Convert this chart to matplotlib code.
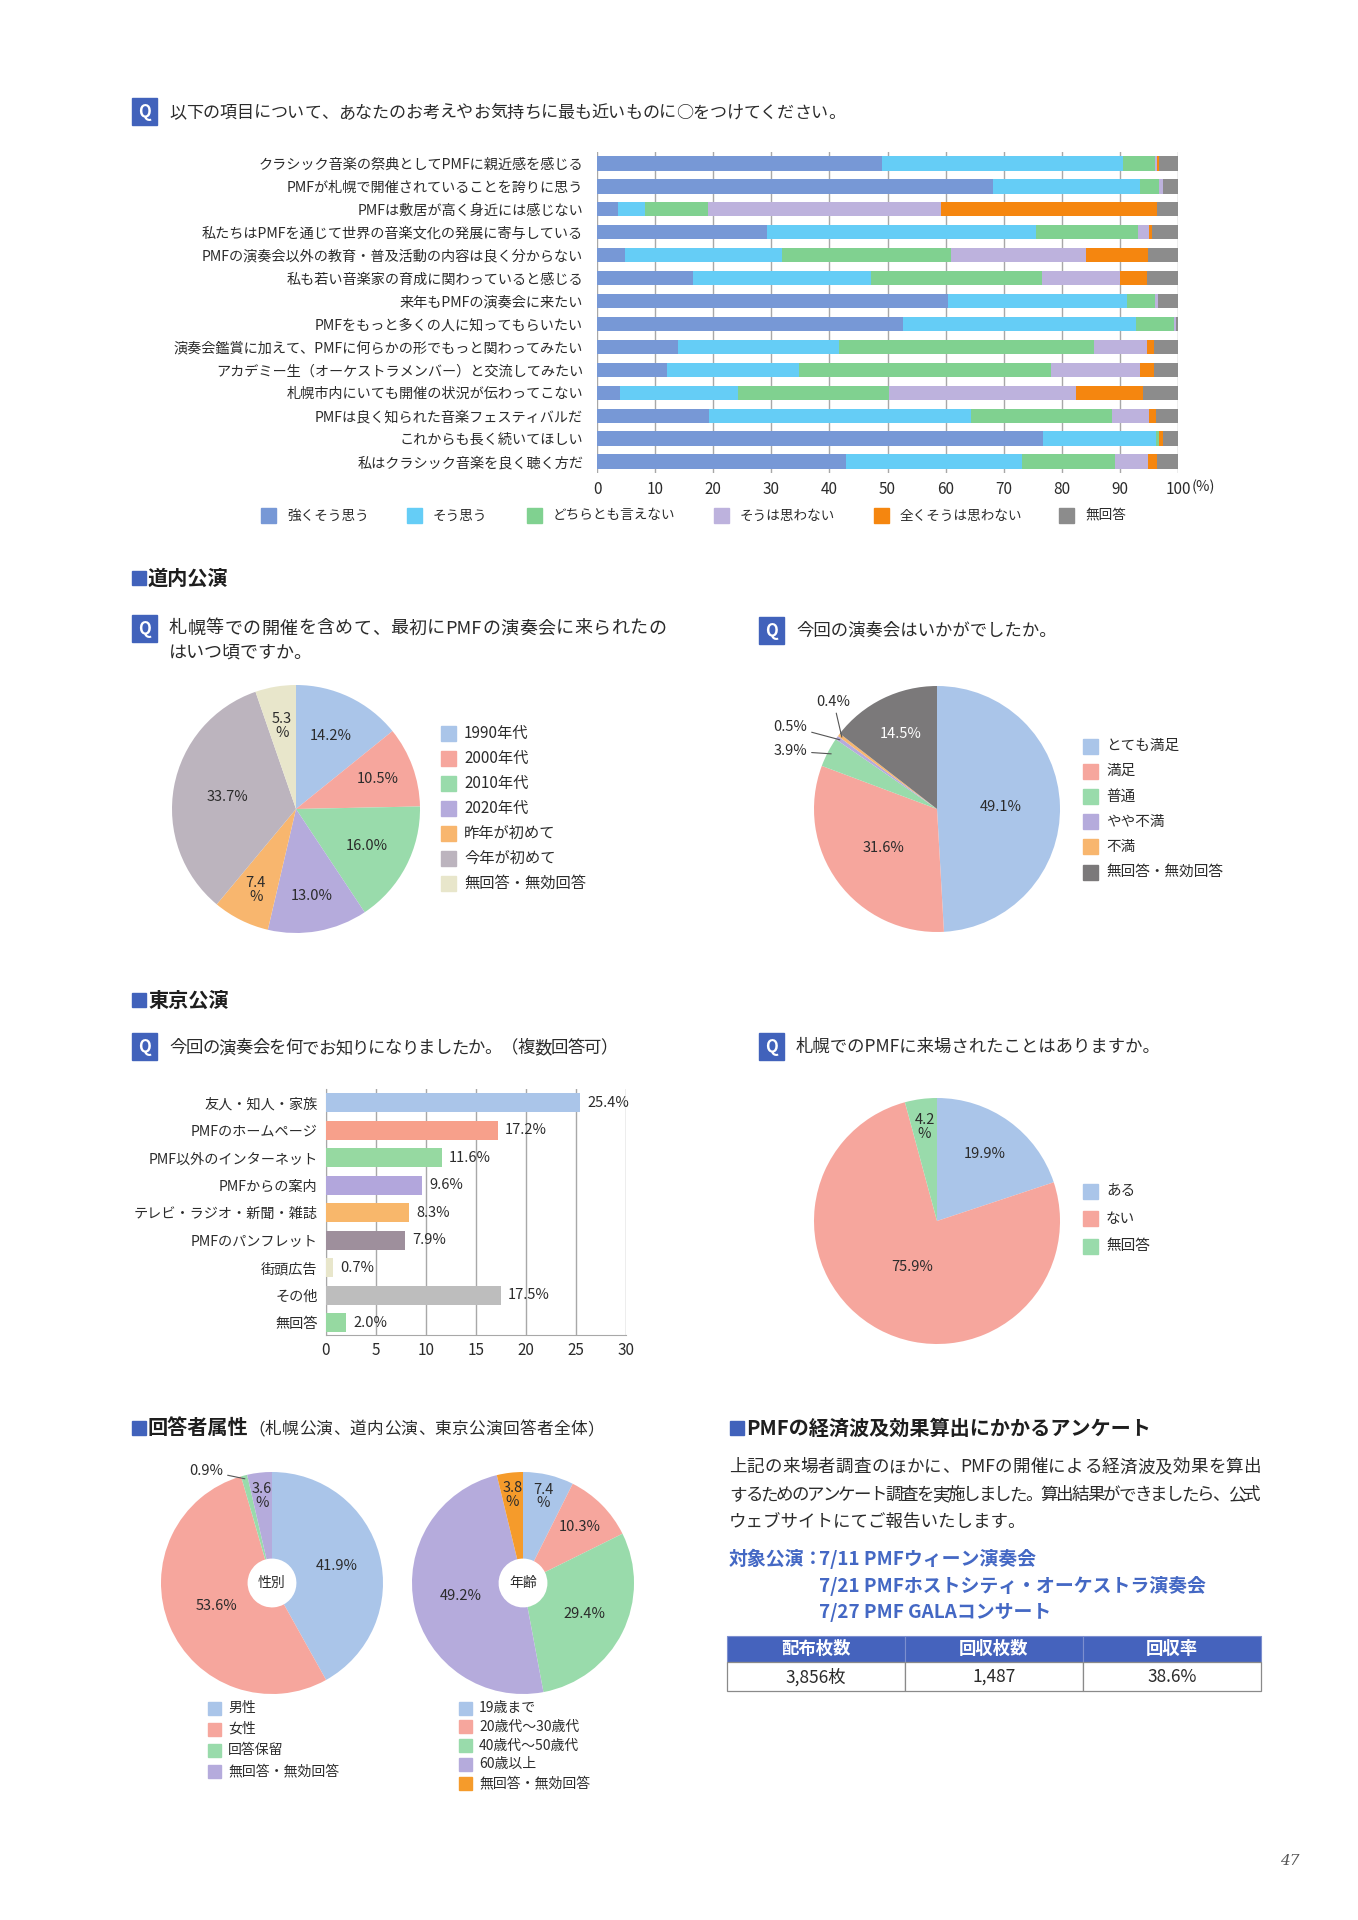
import re
import matplotlib
matplotlib.use("Agg")
import matplotlib.pyplot as plt
from matplotlib.patches import Rectangle
import numpy as np

plt.rcParams['font.family'] = ['Noto Sans CJK JP', 'DejaVu Sans']

W, H = 1358, 1920

# ---------------- data ----------------
statements = [
    'クラシック音楽の祭典としてPMFに親近感を感じる',
    'PMFが札幌で開催されていることを誇りに思う',
    'PMFは敷居が高く身近には感じない',
    '私たちはPMFを通じて世界の音楽文化の発展に寄与している',
    'PMFの演奏会以外の教育・普及活動の内容は良く分からない',
    '私も若い音楽家の育成に関わっていると感じる',
    '来年もPMFの演奏会に来たい',
    'PMFをもっと多くの人に知ってもらいたい',
    '演奏会鑑賞に加えて、PMFに何らかの形でもっと関わってみたい',
    'アカデミー生（オーケストラメンバー）と交流してみたい',
    '札幌市内にいても開催の状況が伝わってこない',
    'PMFは良く知られた音楽フェスティバルだ',
    'これからも長く続いてほしい',
    '私はクラシック音楽を良く聴く方だ',
]
likert_labels = ['強くそう思う', 'そう思う', 'どちらとも言えない', 'そうは思わない', '全くそうは思わない', '無回答']
strongly_agree = [49.0, 68.2, 3.6, 29.3, 4.8, 16.5, 60.4, 52.6, 14.0, 12.1, 4.0, 19.2, 76.8, 42.8]
agree = [41.6, 25.3, 4.6, 46.3, 27.1, 30.6, 30.9, 40.1, 27.6, 22.6, 20.2, 45.2, 19.4, 30.4]
neutral = [5.4, 3.3, 10.9, 17.5, 29.0, 29.5, 4.7, 6.6, 44.0, 43.5, 26.0, 24.2, 0.6, 16.0]
disagree = [0.4, 0.6, 40.1, 1.9, 23.3, 13.5, 0.6, 0.3, 9.0, 15.2, 32.3, 6.4, 0.0, 5.6]
strongly_disagree = [0.4, 0.0, 37.2, 0.6, 10.6, 4.6, 0.0, 0.0, 1.3, 2.4, 11.5, 1.2, 0.6, 1.6]
no_answer = [3.2, 2.6, 3.6, 4.4, 5.2, 5.3, 3.4, 0.4, 4.1, 4.2, 6.0, 3.8, 2.6, 3.6]

first_visit_labels = ['1990年代', '2000年代', '2010年代', '2020年代', '昨年が初めて', '今年が初めて', '無回答・無効回答']
first_visit = [14.2, 10.5, 16.0, 13.0, 7.4, 33.7, 5.3]

satisfaction_labels = ['とても満足', '満足', '普通', 'やや不満', '不満', '無回答・無効回答']
satisfaction = [49.1, 31.6, 3.9, 0.5, 0.4, 14.5]

source_labels = ['友人・知人・家族', 'PMFのホームページ', 'PMF以外のインターネット', 'PMFからの案内',
                 'テレビ・ラジオ・新聞・雑誌', 'PMFのパンフレット', '街頭広告', 'その他', '無回答']
source = [25.4, 17.2, 11.6, 9.6, 8.3, 7.9, 0.7, 17.5, 2.0]

visited_labels = ['ある', 'ない', '無回答']
visited = [19.9, 75.9, 4.2]

gender_labels = ['男性', '女性', '回答保留', '無回答・無効回答']
gender = [41.9, 53.6, 0.9, 3.6]

age_labels = ['19歳まで', '20歳代～30歳代', '40歳代～50歳代', '60歳以上', '無回答・無効回答']
age = [7.4, 10.3, 29.4, 49.2, 3.8]

table_header = ['配布枚数', '回収枚数', '回収率']
table_values = ['3,856枚', '1,487', '38.6%']

# ---------------- style ----------------
BLUE = '#4162bb'
TXT = '#2b2b2b'
GRID = '#a8a8a8'
likert_colors = ['#7798d6', '#65cdf6', '#80d190', '#bdb2dd', '#f5860f', '#8c8c8c']
LB, SAL, GRN, LAV, LOR = '#aac5e9', '#f6a69d', '#99dbab', '#b5abdc', '#f8b66e'

fig = plt.figure(figsize=(W / 100, H / 100), dpi=100)
renderer = fig.canvas.get_renderer()
bg = fig.add_axes([0, 0, 1, 1])
bg.set_xlim(0, W)
bg.set_ylim(H, 0)
bg.axis('off')


def box(x0, y0, x1, y1):
    return [x0 / W, 1 - y1 / H, (x1 - x0) / W, (y1 - y0) / H]


def justify(x0, x1, y, s, fs, color=TXT, weight='normal'):
    # lay the line out token by token so that it spans x0..x1 (proportional, like the print)
    toks = re.findall(r'[A-Za-z0-9/,.% ]+|.', s)
    widths = []
    for t in toks:
        tmp = bg.text(0, 0, t, fontsize=fs, fontweight=weight)
        widths.append(tmp.get_window_extent(renderer).width)
        tmp.remove()
    gap = (x1 - x0 - sum(widths)) / (len(toks) - 1)
    base = y + 0.36 * fs * 100 / 72
    x = x0
    for t, w in zip(toks, widths):
        bg.text(x, base, t, ha='left', va='baseline', fontsize=fs, color=color, fontweight=weight)
        x += w + gap


def q_mark(x, y, text=None, size=12.5):
    bg.add_patch(Rectangle((x, y), 25, 27, color=BLUE))
    bg.text(x + 12.5, y + 14, 'Q', color='white', ha='center', va='center', fontsize=12, fontweight='bold')
    if text:
        bg.text(x + 37, y + 13.5, text, ha='left', va='center', fontsize=size, color=TXT)


def section(x, y, text, size=14.5):
    bg.add_patch(Rectangle((x, y - 7), 14, 14, color=BLUE))
    bg.text(x + 16, y, text, ha='left', va='center', fontsize=size, fontweight='bold', color='#1e1e1e')


def legend_column(x, y0, step, labels, colors, size=15, fs=10.5, gap=8):
    for i, (lab, c) in enumerate(zip(labels, colors)):
        y = y0 + i * step
        bg.add_patch(Rectangle((x, y - size / 2), size, size, color=c))
        bg.text(x + size + gap, y, lab, ha='left', va='center', fontsize=fs, color=TXT)


def pie_chart(cx, cy, r, values, colors, dists, ext=None, hole=0.0, center_text=None, white=()):
    ax = fig.add_axes(box(cx - r, cy - r, cx + r, cy + r))
    wp = dict(linewidth=0)
    if hole:
        wp['width'] = 1 - hole
    wedges, _ = ax.pie(values, colors=colors, startangle=90, counterclock=False,
                       radius=1, wedgeprops=wp)
    ax.set_xlim(-1, 1)
    ax.set_ylim(-1, 1)
    ax.set_aspect('equal')
    ax.axis('off')
    ext = ext or {}
    for i, (w, v) in enumerate(zip(wedges, values)):
        ang = np.deg2rad((w.theta1 + w.theta2) / 2)
        if i in ext:
            tx, ty = ext[i]
            ax.annotate(f'{v}%', xy=(0.97 * np.cos(ang), 0.97 * np.sin(ang)), xytext=(tx, ty),
                        ha='center', va='center', fontsize=10.5, color=TXT, annotation_clip=False,
                        arrowprops=dict(arrowstyle='-', color='#555555', lw=0.8, shrinkA=1, shrinkB=0))
        else:
            s = f'{v}%' if v >= 8 else f'{v}\n%'
            d = dists[i]
            ax.text(d * np.cos(ang), d * np.sin(ang), s, ha='center', va='center', fontsize=10.5,
                    color='white' if i in white else TXT, linespacing=0.95)
    if center_text:
        ax.text(0, 0, center_text, ha='center', va='center', fontsize=10, color=TXT)
    return ax


# ---------------- top stacked bar chart ----------------
q_mark(132, 98)
justify(169, 845, 111.5, '以下の項目について、あなたのお考えやお気持ちに最も近いものに○をつけてください。', 12.3)

ax1 = fig.add_axes(box(597, 152, 1178, 473))
series = [strongly_agree, agree, neutral, disagree, strongly_disagree, no_answer]
y = np.arange(len(statements))
left = np.zeros(len(statements))
for vals, c, lab in zip(series, likert_colors, likert_labels):
    ax1.barh(y, vals, left=left, height=0.62, color=c, label=lab, zorder=3)
    left += np.array(vals)
ax1.set_xlim(0, 100)
ax1.set_ylim(len(statements) - 0.5, -0.5)
ax1.set_yticks(y, statements)
ax1.set_xticks(range(0, 101, 10))
ax1.grid(axis='x', color=GRID, lw=1, zorder=0)
for s in ax1.spines.values():
    s.set_visible(False)
ax1.tick_params(axis='y', length=0, pad=10, labelsize=10.2, labelcolor=TXT)
ax1.tick_params(axis='x', length=0, pad=6, labelsize=11, labelcolor=TXT)
bg.text(1192, 487, '(%)', ha='left', va='center', fontsize=10.5, color=TXT)

legend_x = [261, 407, 527, 714, 874, 1059]
for x, lab, c in zip(legend_x, likert_labels, likert_colors):
    bg.add_patch(Rectangle((x, 508), 15, 15, color=c))
    bg.text(x + 26, 515.5, lab, ha='left', va='center', fontsize=9.8, color=TXT)

# ---------------- 道内公演 ----------------
section(132, 578, '道内公演')
q_mark(132, 615)
justify(169, 666, 627, '札幌等での開催を含めて、最初にPMFの演奏会に来られたの', 13)
bg.text(169, 653, 'はいつ頃ですか。', ha='left', va='center', fontsize=13, color=TXT)
pie_chart(296, 809, 124, first_visit, [LB, SAL, GRN, LAV, LOR, '#bcb4be', '#e8e6cb'],
          [0.65, 0.7, 0.64, 0.71, 0.73, 0.56, 0.68])
legend_column(441, 733, 25, first_visit_labels, [LB, SAL, GRN, LAV, LOR, '#bcb4be', '#e8e6cb'], fs=11)

q_mark(759, 617, '今回の演奏会はいかがでしたか。')
pie_chart(937, 809, 123, satisfaction, [LB, SAL, GRN, LAV, LOR, '#7b797a'],
          [0.52, 0.54, 0, 0, 0, 0.68],
          ext={2: (-1.19, 0.47), 3: (-1.19, 0.67), 4: (-0.84, 0.87)}, white=(5,))
legend_column(1083, 746, 25.2, satisfaction_labels, [LB, SAL, GRN, LAV, LOR, '#7b797a'])

# ---------------- 東京公演 ----------------
section(132, 1000, '東京公演')
q_mark(132, 1033)
justify(169, 618, 1047, '今回の演奏会を何でお知りになりましたか。（複数回答可）', 12.5)
ax2 = fig.add_axes(box(326, 1089, 626, 1335))
src_colors = [LB, '#f7a08b', '#96d9a1', '#b2a6dc', '#f8b76b', '#9e8f9c', '#e8e6cb', '#bdbdbd', '#96d9a1']
yy = np.arange(len(source))
ax2.barh(yy, source, height=0.7, color=src_colors, zorder=3)
for i, v in enumerate(source):
    ax2.annotate(f'{v}%', xy=(v, i), xytext=(5, 0), textcoords='offset points',
                 ha='left', va='center', fontsize=10.5, color=TXT, zorder=4)
ax2.set_xlim(0, 30)
ax2.set_ylim(len(source) - 0.55, -0.5)
ax2.set_xticks(range(0, 31, 5))
ax2.set_yticks(yy, source_labels)
ax2.grid(axis='x', color=GRID, lw=1, zorder=0)
for k in ['top', 'right']:
    ax2.spines[k].set_visible(False)
for k in ['left', 'bottom']:
    ax2.spines[k].set_color(GRID)
ax2.tick_params(axis='y', length=0, pad=6, labelsize=10.2, labelcolor=TXT)
ax2.tick_params(axis='x', length=0, pad=5, labelsize=11, labelcolor=TXT)

q_mark(759, 1033, '札幌でのPMFに来場されたことはありますか。')
pie_chart(937, 1221, 123, visited, [LB, SAL, GRN], [0.67, 0.42, 0.77])
legend_column(1083, 1191, 27.7, visited_labels, [LB, SAL, GRN])

# ---------------- 回答者属性 ----------------
section(132, 1428, '回答者属性')
justify(248, 604, 1428, '（札幌公演、道内公演、東京公演回答者全体）', 12)
pie_chart(272, 1583, 111, gender, [LB, SAL, GRN, LAV], [0.6, 0.54, 0, 0.79],
          ext={2: (-0.59, 1.01)}, hole=0.22, center_text='性別')
legend_column(208, 1708, 21, gender_labels, [LB, SAL, GRN, LAV], size=13, fs=10, gap=7)
pie_chart(523, 1583, 111, age, [LB, SAL, GRN, LAV, '#f59b2b'], [0.8, 0.72, 0.62, 0.57, 0.8],
          hole=0.22, center_text='年齢')
legend_column(459, 1708, 18.8, age_labels, [LB, SAL, GRN, LAV, '#f59b2b'], size=13, fs=10, gap=7)

# ---------------- アンケート ----------------
section(730, 1428, 'PMFの経済波及効果算出にかかるアンケート')
justify(729, 1261, 1466, '上記の来場者調査のほかに、PMFの開催による経済波及効果を算出', 12.6)
justify(729, 1261, 1494, 'するためのアンケート調査を実施しました。算出結果ができましたら、公式', 12.6)
bg.text(729, 1522, 'ウェブサイトにてご報告いたします。', ha='left', va='center', fontsize=12.6, color=TXT)

PBLUE = '#4468c4'
bg.text(729, 1559, '対象公演：', ha='left', va='center', fontsize=13.6, fontweight='bold', color=PBLUE)
bg.text(819, 1559, '7/11 PMFウィーン演奏会', ha='left', va='center', fontsize=13.6,
        fontweight='bold', color=PBLUE)
bg.text(819, 1586, '7/21 PMFホストシティ・オーケストラ演奏会', ha='left', va='center', fontsize=13.6,
        fontweight='bold', color=PBLUE)
bg.text(819, 1613, '7/27 PMF GALAコンサート', ha='left', va='center', fontsize=13.6,
        fontweight='bold', color=PBLUE)

cw = (1261 - 727) / 3
for j, (hd, val) in enumerate(zip(table_header, table_values)):
    x0 = 727 + j * cw
    bg.add_patch(Rectangle((x0, 1636), cw, 26, facecolor='#4563bd', edgecolor='#7d8fcf', lw=0.8))
    bg.add_patch(Rectangle((x0, 1662), cw, 29, facecolor='white', edgecolor='#8a8a8a', lw=0.9))
    bg.text(x0 + cw / 2, 1649, hd, ha='center', va='center', fontsize=12.5, fontweight='bold', color='white')
    bg.text(x0 + cw / 2, 1677, val, ha='center', va='center', fontsize=12.5, color=TXT)

bg.text(1290, 1861, '47', ha='center', va='center', fontsize=11, style='italic',
        family='DejaVu Serif', color='#555555')

fig.savefig('out.png', dpi=100)
